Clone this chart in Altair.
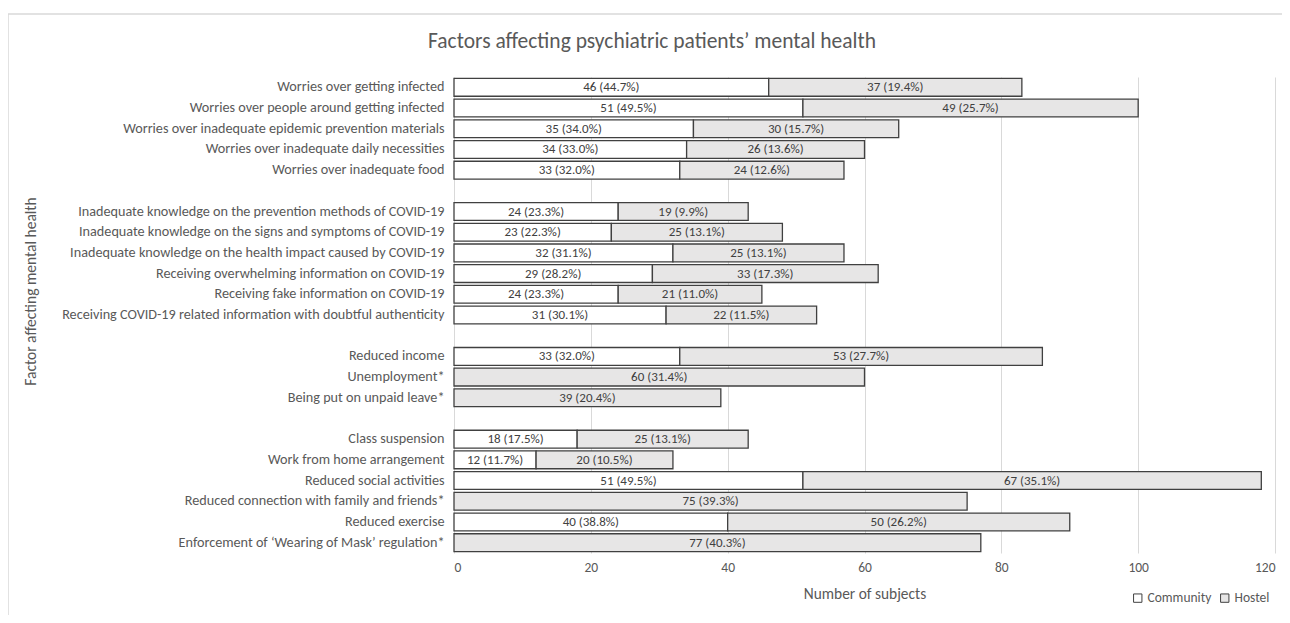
import altair as alt
import pandas as pd

# ---- data ----
group1 = ["Worries over getting infected",
          "Worries over people around getting infected",
          "Worries over inadequate epidemic prevention materials",
          "Worries over inadequate daily necessities",
          "Worries over inadequate food"]
group2 = ["Inadequate knowledge on the prevention methods of COVID-19",
          "Inadequate knowledge on the signs and symptoms of COVID-19",
          "Inadequate knowledge on the health impact caused by COVID-19",
          "Receiving overwhelming information on COVID-19",
          "Receiving fake information on COVID-19",
          "Receiving COVID-19 related information with doubtful authenticity"]
group3 = ["Reduced income",
          "Unemployment*",
          "Being put on unpaid leave*"]
group4 = ["Class suspension",
          "Work from home arrangement",
          "Reduced social activities",
          "Reduced connection with family and friends*",
          "Reduced exercise",
          "Enforcement of \u2018Wearing of Mask\u2019 regulation*"]

community = [46, 51, 35, 34, 33,
             24, 23, 32, 29, 24, 31,
             33, None, None,
             18, 12, 51, None, 40, None]
community_pct = [44.7, 49.5, 34.0, 33.0, 32.0,
                 23.3, 22.3, 31.1, 28.2, 23.3, 30.1,
                 32.0, None, None,
                 17.5, 11.7, 49.5, None, 38.8, None]
hostel = [37, 49, 30, 26, 24,
          19, 25, 25, 33, 21, 22,
          53, 60, 39,
          25, 20, 67, 75, 50, 77]
hostel_pct = [19.4, 25.7, 15.7, 13.6, 12.6,
              9.9, 13.1, 13.1, 17.3, 11.0, 11.5,
              27.7, 31.4, 20.4,
              13.1, 10.5, 35.1, 39.3, 26.2, 40.3]
series_names = ["Community", "Hostel"]
x_ticks = [0, 20, 40, 60, 80, 100, 120]
chart_title = "Factors affecting psychiatric patients\u2019 mental health"

# ---- build tables ----
factors = group1 + group2 + group3 + group4
domain = group1 + [" "] + group2 + ["  "] + group3 + ["   "] + group4

rows = []
for f, c, cp, h, hp in zip(factors, community, community_pct, hostel, hostel_pct):
    start = 0
    if c is not None:
        rows.append({"factor": f, "series": "Community", "start": 0, "end": c,
                     "label": f"{c} ({cp:.1f}%)"})
        start = c
    rows.append({"factor": f, "series": "Hostel", "start": start, "end": start + h,
                 "label": f"{h} ({hp:.1f}%)"})
df = pd.DataFrame(rows)

FONT = "Carlito, 'Liberation Sans Narrow', 'Liberation Sans', Arial, sans-serif"
GREY = "#595959"

yenc = alt.Y("factor:N",
             scale=alt.Scale(domain=domain, paddingInner=0.14, paddingOuter=0.07),
             axis=alt.Axis(title="Factor affecting mental health", labelLimit=500,
                           labelPadding=10, ticks=False, domain=False, grid=False,
                           labelFontSize=14.2, labelColor=GREY, labelFont=FONT,
                           titleFontSize=15.5, titleColor=GREY, titleFont=FONT,
                           titleFontWeight="normal", titleAngle=270,
                           titleX=-424, titleY=214, titleAlign="center",
                           titleBaseline="middle"))

xscale = alt.Scale(domain=[0, 120], nice=False)

base = alt.Chart(df)

bars = base.mark_bar(stroke="#404040", strokeWidth=1.3).encode(
    y=yenc,
    x=alt.X("start:Q", scale=xscale,
            axis=alt.Axis(title="Number of subjects", values=x_ticks, ticks=False,
                          domain=False, grid=True, gridColor="#d9d9d9",
                          labelFontSize=13.5, labelColor=GREY, labelFont=FONT,
                          labelPadding=7, titleFontSize=15.4, titleColor=GREY,
                          titleFont=FONT, titleFontWeight="normal",
                          titlePadding=13)),
    x2="end:Q",
    fill=alt.Fill("series:N",
                  scale=alt.Scale(domain=series_names, range=["#ffffff", "#e7e6e6"]),
                  legend=alt.Legend(title=None, orient="none", legendX=677,
                                    legendY=514, direction="horizontal",
                                    symbolType="square", symbolSize=70,
                                    symbolStrokeColor="#404040",
                                    symbolStrokeWidth=1, labelFontSize=13.5,
                                    labelColor=GREY, labelFont=FONT,
                                    columnPadding=6, labelOffset=3)),
)

text = base.transform_calculate(mid="(datum.start + datum.end) / 2").mark_text(
    fontSize=13, color="#404040", font=FONT, baseline="middle"
).encode(y=alt.Y("factor:N", scale=alt.Scale(domain=domain)),
         x=alt.X("mid:Q", scale=xscale),
         text="label:N")

single = pd.DataFrame({"title": [chart_title]})
title_mark = alt.Chart(single).mark_text(
    fontSize=21.5, color=GREY, font=FONT, align="center", baseline="middle"
).encode(x=alt.value(198), y=alt.value(-35), text="title:N")

top_line = alt.Chart(single).mark_rule(color="#d9d9d9", strokeWidth=1.5).encode(
    x=alt.value(-446), x2=alt.value(840), y=alt.value(-63))
left_line = alt.Chart(single).mark_rule(color="#d9d9d9", strokeWidth=1.5).encode(
    x=alt.value(-446), y=alt.value(-63), y2=alt.value(560))

chart = alt.layer(top_line, left_line, title_mark, bars, text).properties(
    width=821, height=476,
    autosize=alt.AutoSizeParams(type="none"),
    padding={"left": 446, "top": 69, "right": 7, "bottom": 62},
).configure_view(stroke=None)

chart.save("out.html", embed_options={"renderer": "svg", "actions": False})
